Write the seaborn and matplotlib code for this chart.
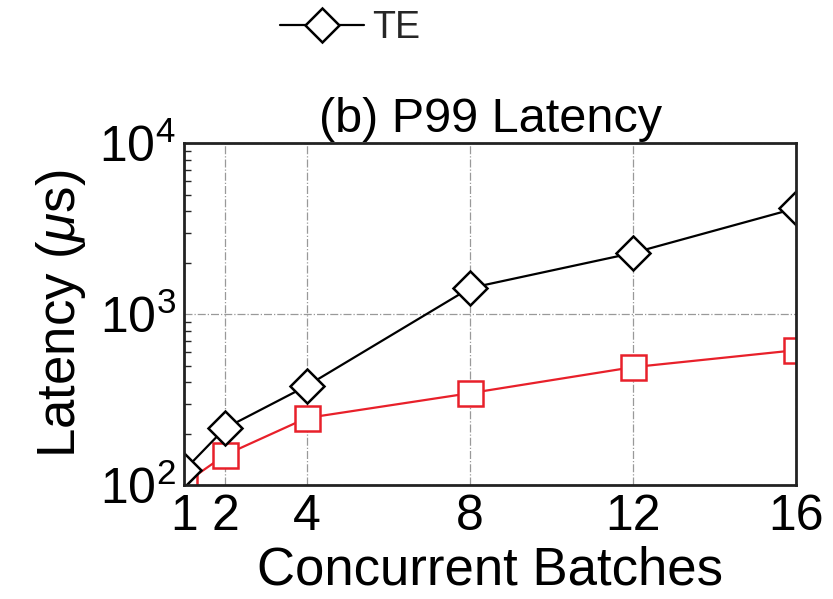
import matplotlib
matplotlib.use("Agg")
import matplotlib.pyplot as plt
import seaborn as sns
import pandas as pd

batches = [1, 2, 4, 8, 12, 16]
te_latency = [122, 215, 380, 1420, 2280, 4170]
ours_latency = [102, 150, 247, 345, 490, 616]
x_ticks = [1, 2, 4, 8, 12, 16]

sns.set_theme(style="white")
plt.rcParams["font.family"] = ["Liberation Sans", "DejaVu Sans"]
plt.rcParams["mathtext.fontset"] = "custom"
plt.rcParams["mathtext.rm"] = "Liberation Sans"
plt.rcParams["mathtext.it"] = "Liberation Sans:italic"

df_te = pd.DataFrame({"Concurrent Batches": batches, "Latency": te_latency})
df_ours = pd.DataFrame({"Concurrent Batches": batches, "Latency": ours_latency})

fig = plt.figure(figsize=(8.33, 5.99), dpi=100)
ax = fig.add_axes([0.221, 0.190, 0.735, 0.571])

sns.lineplot(data=df_ours, x="Concurrent Batches", y="Latency", ax=ax,
             color="#e8202a", linewidth=1.6, marker="s", markersize=18,
             markerfacecolor="white", markeredgecolor="#e8202a",
             markeredgewidth=1.8, legend=False)
sns.lineplot(data=df_te, x="Concurrent Batches", y="Latency", ax=ax,
             color="black", linewidth=1.6, marker="D", markersize=17,
             markerfacecolor="white", markeredgecolor="black",
             markeredgewidth=1.8, label="TE", legend=False)

ax.set_yscale("log")
ax.set_xlim(1, 16)
ax.set_ylim(100, 10000)
ax.set_xticks(x_ticks)
ax.set_xticklabels([str(v) for v in x_ticks])
ax.set_yticks([100, 1000, 10000])
ax.set_yticklabels([r"$10^2$", r"$10^3$", r"$10^4$"])

ax.grid(True, which="major", color="#999999", linestyle="-.", linewidth=0.9)
ax.tick_params(axis="both", which="major", direction="in", length=8, width=1.2,
               labelsize=36, colors="black", pad=6)
ax.tick_params(axis="y", which="minor", direction="in", length=5, width=1.0,
               left=True)
for s in ax.spines.values():
    s.set_color("#222222")
    s.set_linewidth(2.0)

ax.set_xlabel("Concurrent Batches", fontsize=38, color="black", labelpad=4)
ax.set_ylabel(r"Latency ($\mu$s)", fontsize=38, color="black", labelpad=8)
ax.set_title("(b) P99 Latency", fontsize=35, color="black", pad=8)

handles, labels = ax.get_legend_handles_labels()
fig.legend(handles, labels, loc="center left", bbox_to_anchor=(0.318, 0.953),
           frameon=False, fontsize=27, handlelength=2.25, handletextpad=0.2,
           borderaxespad=0, markerscale=1.0)

fig.savefig("out.png", dpi=100)
